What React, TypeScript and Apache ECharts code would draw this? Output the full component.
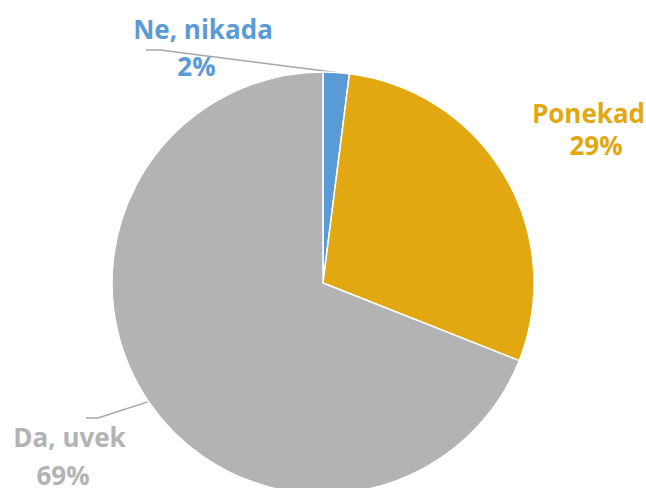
import React, { useEffect, useRef } from "react";
import * as echarts from "echarts";

const categories = ["Ne, nikada", "Ponekad", "Da, uvek"];
const values = [2, 29, 69];
const colors = ["#5B9BD5", "#E2A812", "#B2B3B5"];

// label placement (pixel layout, not data)
const labelLayoutCfg = [
  { x: 203, y: 47.5, lineHeight: 37.5, pad: [0, 13, 0, 0], line: [[160, 50], [146, 50]] },
  { x: 588.5, y: 128.5, lineHeight: 32, pad: [0, 0, 0, 15], line: null },
  { x: 69.5, y: 455.5, lineHeight: 38, pad: [0, 13, 0, 0], line: [[98, 418], [86, 418]] },
];

export default function App() {
  const ref = useRef<HTMLDivElement>(null);
  useEffect(() => {
    if (!ref.current) return;
    const chart = echarts.init(ref.current, undefined, { renderer: "svg" });
    const data = categories.map((name, i) => ({
      name,
      value: values[i],
      itemStyle: { color: colors[i] },
      label: {
        formatter: "{n|{b}}\n{p|{c}%}",
        rich: {
          n: {
            color: colors[i],
            fontSize: 26,
            fontWeight: "bold",
            fontFamily: "Open Sans",
            lineHeight: labelLayoutCfg[i].lineHeight,
          },
          p: {
            color: colors[i],
            fontSize: 26,
            fontWeight: "bold",
            fontFamily: "Open Sans",
            lineHeight: labelLayoutCfg[i].lineHeight,
            padding: labelLayoutCfg[i].pad,
          },
        },
      },
      labelLine: { show: labelLayoutCfg[i].line != null },
    }));
    chart.setOption({
      animation: false,
      backgroundColor: "#ffffff",
      series: [
        {
          type: "pie",
          center: [323, 283],
          radius: 211,
          startAngle: 90,
          clockwise: true,
          avoidLabelOverlap: false,
          itemStyle: { borderColor: "#ffffff", borderWidth: 1.5 },
          label: { show: true, position: "outside" },
          labelLine: {
            show: true,
            length: 20,
            length2: 15,
            lineStyle: { color: "#A6A6A6", width: 1.5 },
          },
          labelLayout: (params: any) => {
            const cfg = labelLayoutCfg[params.dataIndex];
            const out: any = {
              x: cfg.x,
              y: cfg.y,
              align: "center",
              verticalAlign: "middle",
            };
            if (cfg.line && params.labelLinePoints) {
              out.labelLinePoints = [params.labelLinePoints[0], ...cfg.line];
            }
            return out;
          },
          data,
        },
      ],
    });
    return () => chart.dispose();
  }, []);
  return (
    <div
      ref={ref}
      style={{ position: "absolute", left: 0, top: 0, width: 646, height: 488 }}
    />
  );
}
